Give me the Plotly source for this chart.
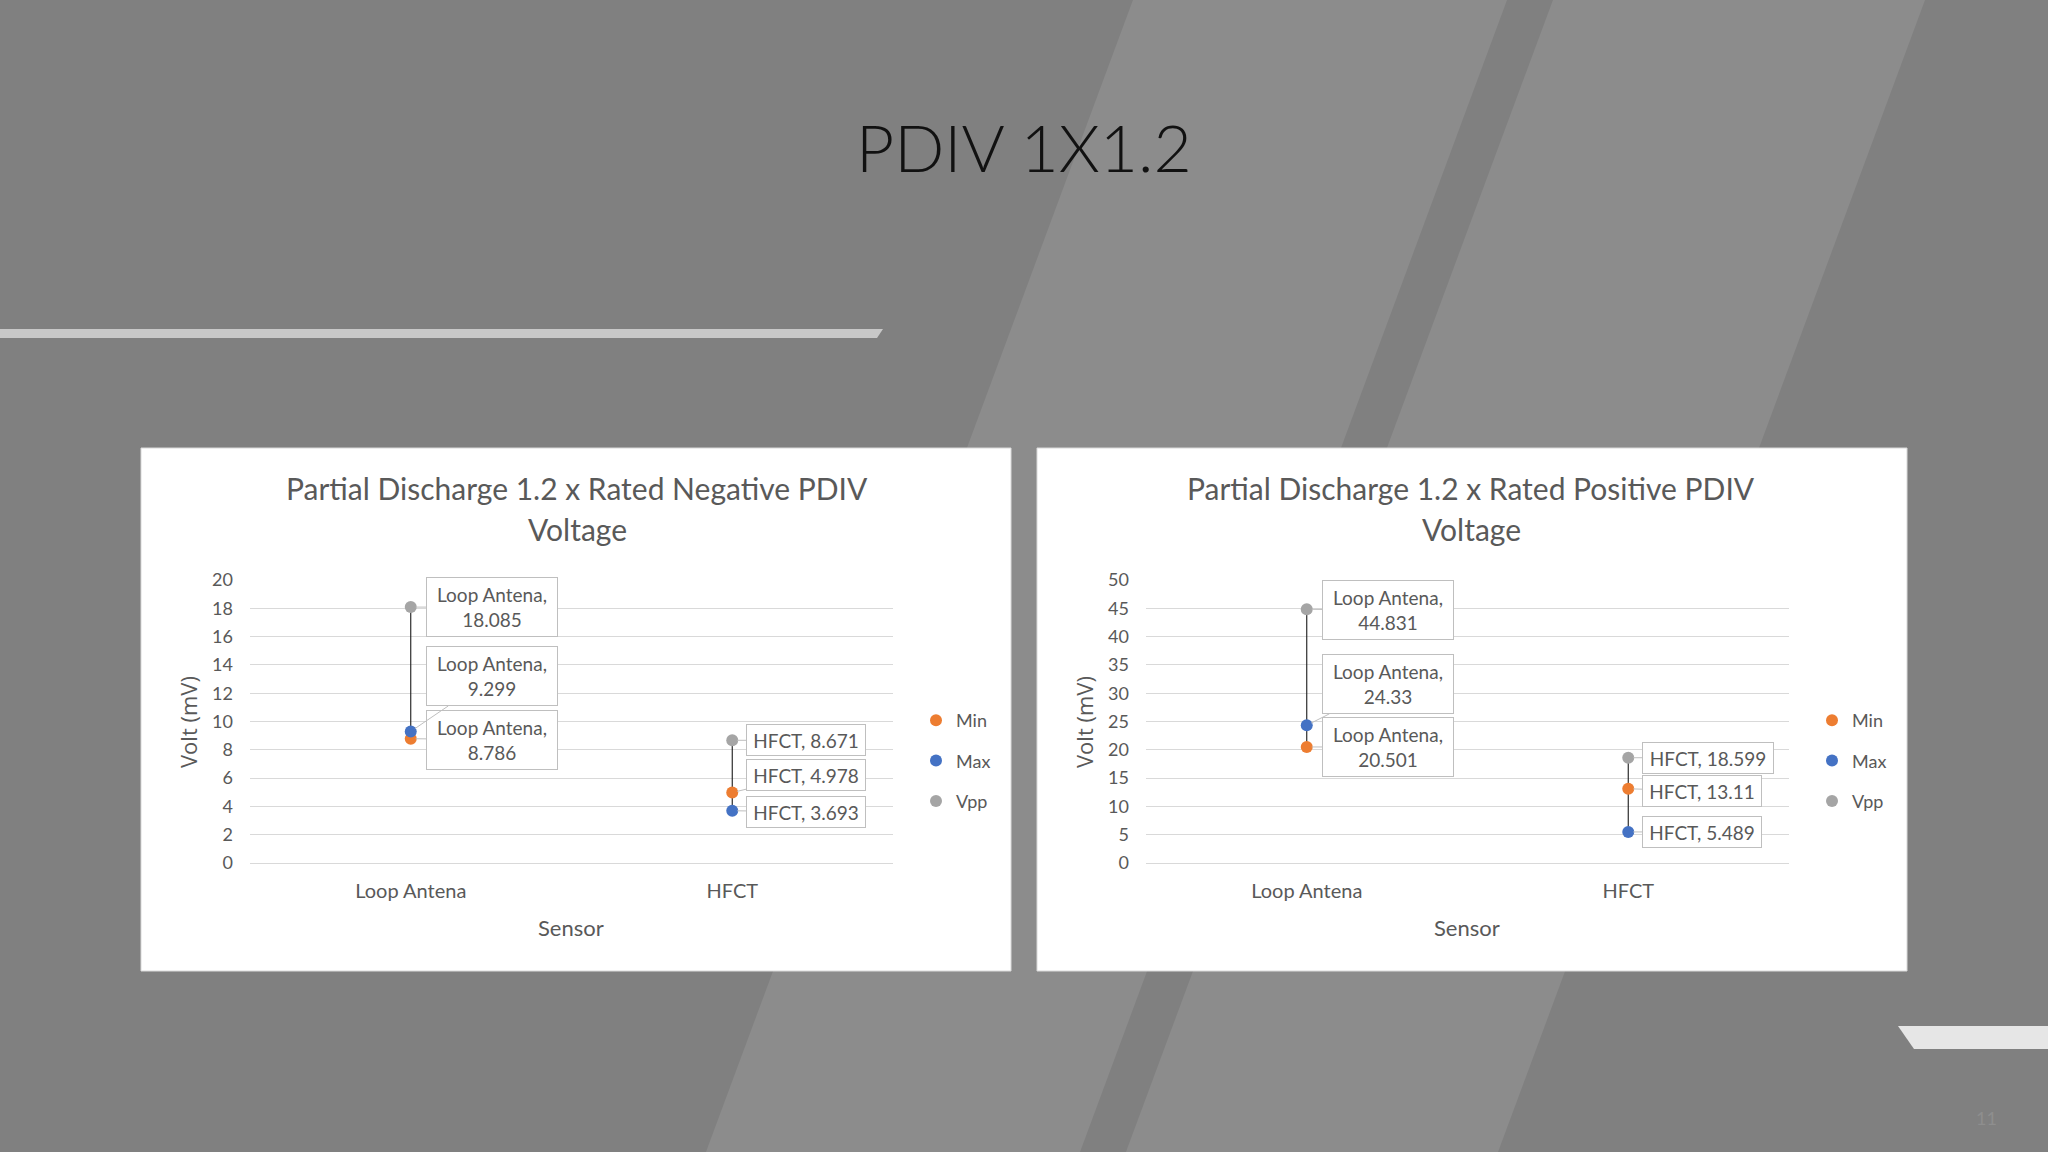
import plotly.graph_objects as go

W, H = 2048, 1152

# ---------------- data ----------------
categories = ["Loop Antena", "HFCT"]
series_names = ["Min", "Max", "Vpp"]

neg_min = [8.786, 4.978]
neg_max = [9.299, 3.693]
neg_vpp = [18.085, 8.671]

pos_min = [20.501, 13.11]
pos_max = [24.33, 5.489]
pos_vpp = [44.831, 18.599]

neg_ticks = [0, 2, 4, 6, 8, 10, 12, 14, 16, 18, 20]
pos_ticks = [0, 5, 10, 15, 20, 25, 30, 35, 40, 45, 50]

slide_title = "PDIV 1X1.2"
neg_title = ["Partial Discharge 1.2 x Rated Negative PDIV", "Voltage"]
pos_title = ["Partial Discharge 1.2 x Rated Positive PDIV", "Voltage"]
y_title = "Volt (mV)"
x_title = "Sensor"
page_number = "11"

# ---------------- styles ----------------
series_colors = {"Min": "#ED7D31", "Max": "#4472C4", "Vpp": "#A5A5A5"}
TXT = "#595959"
GRID = "#d9d9d9"
FONT = "Lato, Carlito, Calibri, sans-serif"

# label callout offsets (pixels) and box sizes, per chart / series / category
neg_label_layout = {
    "Min": [(81, 1, 130, 58, True), (74, -18, 118, 30, False)],
    "Max": [(81, -55, 130, 58, True), (74, 1, 118, 30, False)],
    "Vpp": [(81, 0, 130, 58, True), (74, 0, 118, 30, False)],
}
pos_label_layout = {
    "Min": [(81, 0, 130, 58, True), (74, 2, 118, 30, False)],
    "Max": [(81, -41, 130, 58, True), (74, 0, 118, 30, False)],
    "Vpp": [(81, 1, 130, 58, True), (80, 0, 130, 30, False)],
}


def px(x):
    return x / W


def py(y):
    return 1 - y / H


shapes = []


def poly(pts, color, layer="below"):
    path = "M " + " L ".join(f"{px(x):.5f},{py(y):.5f}" for x, y in pts) + " Z"
    shapes.append(dict(type="path", xref="paper", yref="paper", path=path,
                       fillcolor=color, line=dict(width=0), layer=layer))


# background stripes
poly([(1133, 0), (1507, 0), (1080, 1152), (706, 1152)], "#8c8c8c")
poly([(1553, 0), (1925, 0), (1498, 1152), (1126, 1152)], "#8c8c8c")
# slide accent bars
poly([(0, 329), (883, 329), (877, 338), (0, 338)], "#c8c8c8")
poly([(1898, 1026), (2048, 1026), (2048, 1049), (1914, 1049)], "#e6e6e6")
# chart panels
for x0, x1 in [(141, 1011), (1037, 1907)]:
    shapes.append(dict(type="rect", xref="paper", yref="paper",
                       x0=px(x0), x1=px(x1), y0=py(971), y1=py(448),
                       fillcolor="white", line=dict(color="#d9d9d9", width=1),
                       layer="below"))

fig = go.Figure()

charts = [
    dict(xa="x", ya="y", mins=neg_min, maxs=neg_max, vpps=neg_vpp,
         layout=neg_label_layout, legend="legend", off=0),
    dict(xa="x2", ya="y2", mins=pos_min, maxs=pos_max, vpps=pos_vpp,
         layout=pos_label_layout, legend="legend2", off=896),
]

annotations = []

for ci, ch in enumerate(charts):
    series_vals = {"Min": ch["mins"], "Max": ch["maxs"], "Vpp": ch["vpps"]}
    # high-low lines
    hx, hy = [], []
    for i, c in enumerate(categories):
        vals = [series_vals[s][i] for s in series_names]
        hx += [c, c, None]
        hy += [min(vals), max(vals), None]
    fig.add_trace(go.Scatter(x=hx, y=hy, mode="lines", xaxis=ch["xa"], yaxis=ch["ya"],
                             line=dict(color="#1a1a1a", width=1.1),
                             showlegend=False, hoverinfo="skip"))
    for s in series_names:
        fig.add_trace(go.Scatter(
            x=categories, y=series_vals[s], mode="markers", name=s,
            xaxis=ch["xa"], yaxis=ch["ya"],
            marker=dict(color=series_colors[s], size=12),
            legend=ch["legend"], legendgroup=f"{ci}_{s}"))
        for i, c in enumerate(categories):
            v = series_vals[s][i]
            ax, ay, bw, bh, wrap = ch["layout"][s][i]
            txt = f"{c},<br>{v}" if wrap else f"{c}, {v}"
            annotations.append(dict(
                x=c, y=v, xref=ch["xa"], yref=ch["ya"], text=txt,
                showarrow=True, arrowhead=0, arrowwidth=1, arrowcolor="#bfbfbf",
                ax=ax, ay=ay, standoff=5, width=bw, height=bh,
                bgcolor="white", bordercolor="#bfbfbf", borderwidth=1, borderpad=0,
                font=dict(family=FONT, size=19, color=TXT), align="center", valign="middle"))

    off = ch["off"]
    title_lines = neg_title if ci == 0 else pos_title
    tcx = 577 if ci == 0 else 1471
    for li, (line, ty) in enumerate(zip(title_lines, [488, 529])):
        annotations.append(dict(x=px(tcx), y=py(ty), xref="paper", yref="paper",
                                text=line, showarrow=False, xanchor="center", yanchor="middle",
                                font=dict(family=FONT, size=30, color=TXT)))
    annotations.append(dict(x=px(188 + off), y=py(722), xref="paper", yref="paper",
                            text=y_title, showarrow=False, textangle=-90,
                            xanchor="center", yanchor="middle",
                            font=dict(family="Open Sans, sans-serif", size=22, color=TXT)))
    annotations.append(dict(x=px(571 + off), y=py(927), xref="paper", yref="paper",
                            text=x_title, showarrow=False, xanchor="center", yanchor="middle",
                            font=dict(family=FONT, size=22, color=TXT)))

annotations.append(dict(x=px(1024), y=py(146), xref="paper", yref="paper",
                        text=slide_title, showarrow=False, xanchor="center", yanchor="middle",
                        font=dict(family="Lato, sans-serif", size=66, color="#111111", weight=300)))
annotations.append(dict(x=px(1986), y=py(1118), xref="paper", yref="paper",
                        text=page_number, showarrow=False, xanchor="center", yanchor="middle",
                        font=dict(family=FONT, size=18, color="#8e8e8e")))

xd1 = [px(250), px(893)]
xd2 = [px(1146), px(1789)]
yd = [py(863), py(580)]

common_x = dict(type="category", range=[-0.5, 1.5], showgrid=False, zeroline=False,
                showline=False, ticks="", tickfont=dict(family=FONT, size=20, color=TXT),
                ticklabelstandoff=14, fixedrange=True, automargin=False)
common_y = dict(showgrid=True, gridcolor=GRID, gridwidth=1, zeroline=True,
                zerolinecolor=GRID, zerolinewidth=1, showline=False, ticks="",
                tickfont=dict(family=FONT, size=18, color=TXT), ticklabelstandoff=16,
                fixedrange=True, automargin=False)

legend_common = dict(font=dict(family=FONT, size=18, color=TXT), bgcolor="rgba(0,0,0,0)",
                     borderwidth=0, tracegroupgap=14, itemsizing="trace",
                     xanchor="left", yanchor="top", traceorder="grouped")

fig.update_layout(
    template="none",
    width=W, height=H, autosize=False,
    margin=dict(l=0, r=0, t=0, b=0, pad=0, autoexpand=False),
    paper_bgcolor="#808080", plot_bgcolor="rgba(0,0,0,0)",
    shapes=shapes, annotations=annotations,
    xaxis=dict(domain=xd1, anchor="y", **common_x),
    yaxis=dict(domain=yd, anchor="x", range=[0, 20], tickvals=neg_ticks, **common_y),
    xaxis2=dict(domain=xd2, anchor="y2", **common_x),
    yaxis2=dict(domain=yd, anchor="x2", range=[0, 50], tickvals=pos_ticks, **common_y),
    legend=dict(x=px(916), y=py(702), **legend_common),
    legend2=dict(x=px(1812), y=py(702), **legend_common),
    showlegend=True,
)

fig.write_html("out.html", config={"displayModeBar": False},
               post_script="document.body.style.margin='0';")
